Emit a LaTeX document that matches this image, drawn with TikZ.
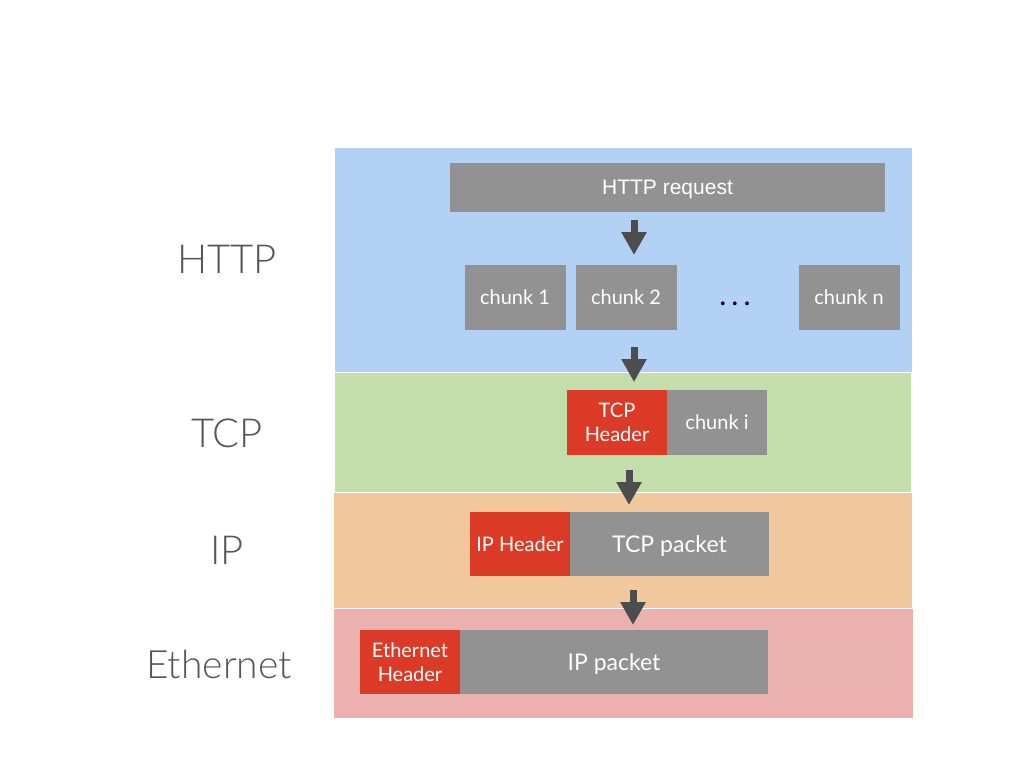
\documentclass[tikz,border=0pt]{standalone}
\usepackage{fontspec}
\setmainfont{Lato}
\newfontfamily\lightfont{Lato}[UprightFont={* Light}]
\newfontfamily\arialfont{Liberation Sans}
\usetikzlibrary{arrows.meta,positioning}

\definecolor{httpblue}{HTML}{B3D1F5}
\definecolor{tcpgreen}{HTML}{C1DEAB}
\definecolor{iporange}{HTML}{F1C89C}
\definecolor{ethpink}{HTML}{EBB1AE}
\definecolor{boxgray}{HTML}{929292}
\definecolor{hdrred}{HTML}{DA3A26}
\definecolor{arrgray}{HTML}{4D4D4D}
\definecolor{lblgray}{HTML}{555555}

\begin{document}
\begin{tikzpicture}[x=1pt,y=-1pt,
        band/.style={anchor=north west,draw=white,line width=1pt,inner sep=0pt,outer sep=0pt},
        box/.style={fill=boxgray,text=white,inner sep=0pt,outer sep=0pt,
            minimum height=65pt,align=center,font=\fontsize{20}{24}\selectfont},
        hdr/.style={box,fill=hdrred},
        layer/.style={text=lblgray,anchor=base,font=\lightfont\fontsize{40}{40}\selectfont},
        arr/.style={draw=arrgray,line width=7pt,-{Triangle[width=24pt,length=23pt]}}]
\useasboundingbox (0,0) rectangle (1024,768);

% layer bands
\node[band,fill=httpblue,minimum width=578pt,minimum height=225pt] (httpband) at (334,147) {};
\node[band,fill=tcpgreen,minimum width=577pt,minimum height=120pt] (tcpband) at (334,372) {};
\node[band,fill=iporange,minimum width=579pt,minimum height=116pt] (ipband) at (333,492) {};
\node[band,fill=ethpink,minimum width=580pt,minimum height=110pt] (ethband) at (333,608) {};

% layer names
\node[layer] (lhttp) at (227,273) {HTTP};
\node[layer] (ltcp) at (227,447) {TCP};
\node[layer] (lip) at (227,564) {IP};
\node[layer,font=\lightfont\fontsize{39}{40}\selectfont] (leth) at (219,678) {Ethernet};

% HTTP
\node[box,minimum width=435pt,minimum height=49pt,text depth=0pt,font=\arialfont\fontsize{21}{24}\selectfont] (req) at (667.5,187.5) {HTTP request};
\node[box,minimum width=101pt] (chunk1) at (515,297) {chunk 1};
\node[box,minimum width=101pt] (chunk2) at (626,297) {chunk 2};
\node[anchor=base,font=\fontsize{30}{30}\selectfont] (dots) at (735,305) {.\,.\,.};
\node[box,minimum width=101pt] (chunkn) at (849,297) {chunk n};

% TCP
\node[hdr,minimum width=100pt] (tcphdr) at (617,422.5) {TCP\\Header};
\node[box,minimum width=100pt,right=0pt of tcphdr] (chunki) {chunk i};

% IP
\node[hdr,minimum width=100pt,minimum height=64pt] (iphdr) at (520,544) {IP Header};
\node[box,minimum width=199pt,minimum height=64pt,right=0pt of iphdr,text depth=0pt,font=\fontsize{23}{24}\selectfont] (tcppkt) {TCP packet};

% Ethernet
\node[hdr,minimum width=100pt,minimum height=64pt] (ethhdr) at (410,662) {Ethernet\\Header};
\node[box,minimum width=308pt,minimum height=64pt,right=0pt of ethhdr,text depth=0pt,font=\fontsize{23}{24}\selectfont] (ippkt) {IP packet};

% arrows
\coordinate (a1) at (634,220); \coordinate (b1) at (634,255);
\coordinate (a2) at (634,347); \coordinate (b2) at (634,382);
\coordinate (a3) at (629,470); \coordinate (b3) at (629,505);
\coordinate (a4) at (633,590); \coordinate (b4) at (633,625);
\draw[arr] (a1) -- (b1);
\draw[arr] (a2) -- (b2);
\draw[arr] (a3) -- (b3);
\draw[arr] (a4) -- (b4);
\end{tikzpicture}
\end{document}
